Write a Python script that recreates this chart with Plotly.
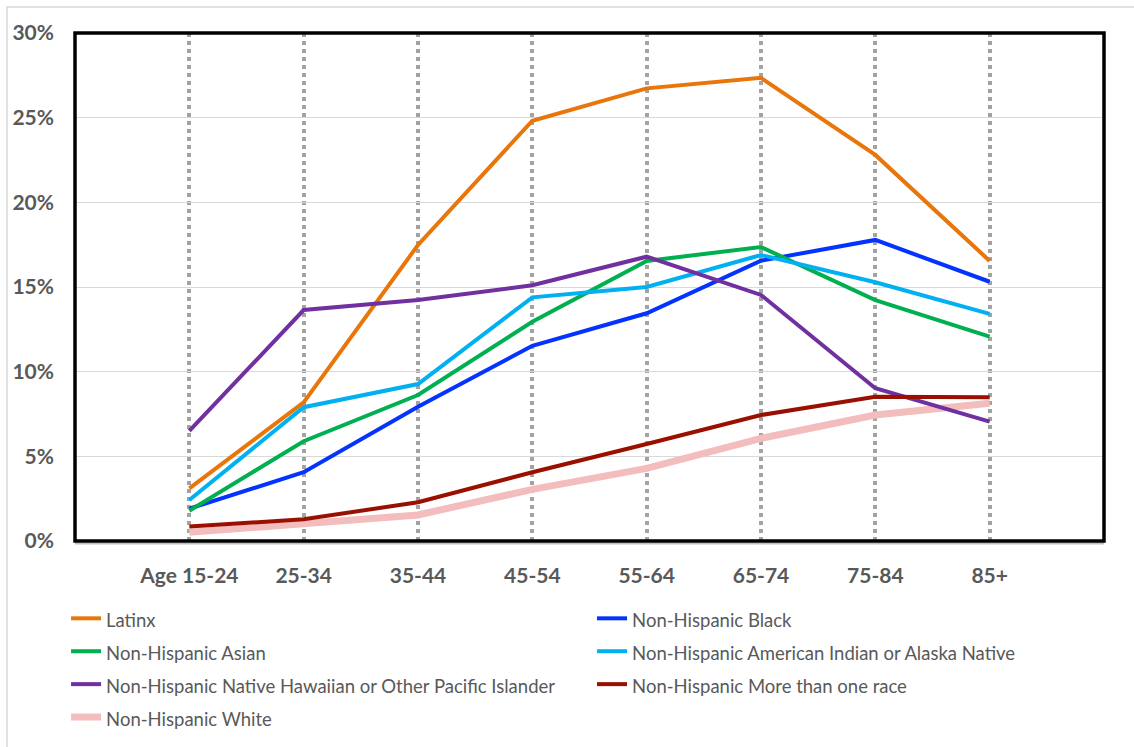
import plotly.graph_objects as go

# Age groups along the x axis
age_groups = ["Age 15-24", "25-34", "35-44", "45-54", "55-64", "65-74", "75-84", "85+"]

# Share of deaths by age group, per race/ethnicity (fractions)
latinx = [0.0311, 0.0819, 0.1748, 0.2482, 0.2673, 0.2735, 0.2280, 0.1654]
nh_black = [0.0191, 0.0406, 0.0793, 0.1153, 0.1345, 0.1655, 0.1778, 0.1531]
nh_asian = [0.0179, 0.0589, 0.0862, 0.1295, 0.1654, 0.1736, 0.1423, 0.1207]
nh_aian = [0.0242, 0.0790, 0.0927, 0.1439, 0.1500, 0.1689, 0.1528, 0.1341]
nh_nhpi = [0.0650, 0.1364, 0.1423, 0.1510, 0.1679, 0.1453, 0.0902, 0.0705]
nh_multi = [0.0085, 0.0128, 0.0229, 0.0406, 0.0573, 0.0744, 0.0852, 0.0849]
nh_white = [0.0051, 0.0098, 0.0154, 0.0305, 0.0429, 0.0606, 0.0744, 0.0813]

series_names = [
    "Latinx",
    "Non-Hispanic Black",
    "Non-Hispanic Asian",
    "Non-Hispanic American Indian or Alaska Native",
    "Non-Hispanic Native Hawaiian or Other Pacific Islander",
    "Non-Hispanic More than one race",
    "Non-Hispanic White",
]
series_values = [latinx, nh_black, nh_asian, nh_aian, nh_nhpi, nh_multi, nh_white]
series_colors = ["#E8760A", "#0433FF", "#00B050", "#00B0F0", "#7030A0", "#9A1000", "#F4BDBD"]
series_widths = [4, 4, 4, 4, 4, 4, 7]

TEXT_GREY = "#595959"

fig = go.Figure()

# White line goes underneath the others; legend order kept via legendrank
draw_order = [6, 0, 1, 2, 3, 4, 5]
for i in draw_order:
    fig.add_trace(go.Scatter(
        x=age_groups,
        y=series_values[i],
        mode="lines",
        name='<span style="font-size:18.5px">' + series_names[i] + "</span>",
        line=dict(color=series_colors[i], width=series_widths[i]),
        legendrank=i + 1,
        hoverinfo="skip",
    ))

fig.update_layout(
    width=1134,
    height=747,
    margin=dict(l=75, r=30, t=33, b=206, autoexpand=False),
    paper_bgcolor="white",
    plot_bgcolor="white",
    font=dict(family="Lato", color=TEXT_GREY),
    showlegend=True,
    legend=dict(
        orientation="h",
        x=-0.0087,
        xanchor="left",
        y=-0.110,
        yanchor="top",
        font=dict(size=23, color=TEXT_GREY, family="Lato"),
        entrywidth=481,
        entrywidthmode="pixels",
        bgcolor="rgba(0,0,0,0)",
        traceorder="normal",
    ),
    xaxis=dict(
        type="category",
        range=[-1, 8],
        showgrid=True,
        gridcolor="#A3A3A3",
        gridwidth=3.5,
        griddash="4px,4px",
        showline=False,
        zeroline=False,
        ticks="",
        ticklabelstandoff=20,
        tickfont=dict(size=21, color=TEXT_GREY, family="Lato", weight="bold"),
        fixedrange=True,
    ),
    yaxis=dict(
        range=[0, 0.30],
        dtick=0.05,
        tickformat=".0%",
        showgrid=True,
        gridcolor="#D9D9D9",
        gridwidth=1.2,
        zeroline=False,
        showline=False,
        ticks="",
        ticklabelstandoff=20,
        tickfont=dict(size=21, color=TEXT_GREY, family="Lato", weight="bold"),
        fixedrange=True,
    ),
    shapes=[
        # outer chart frame
        dict(type="rect", xref="paper", yref="paper",
             x0=-0.0661, x1=1.2, y0=-0.6, y1=1.0512,
             line=dict(color="#D9D9D9", width=1.5), layer="below"),
        # grey axis line just under the frame
        dict(type="line", xref="paper", yref="paper",
             x0=0, x1=1, y0=-0.005, y1=-0.005,
             line=dict(color="#BFBFBF", width=2)),
        # black plot-area frame
        dict(type="rect", xref="paper", yref="paper",
             x0=0, x1=1, y0=0, y1=1,
             line=dict(color="black", width=3.5)),
    ],
)

fig.write_html("out.html")
